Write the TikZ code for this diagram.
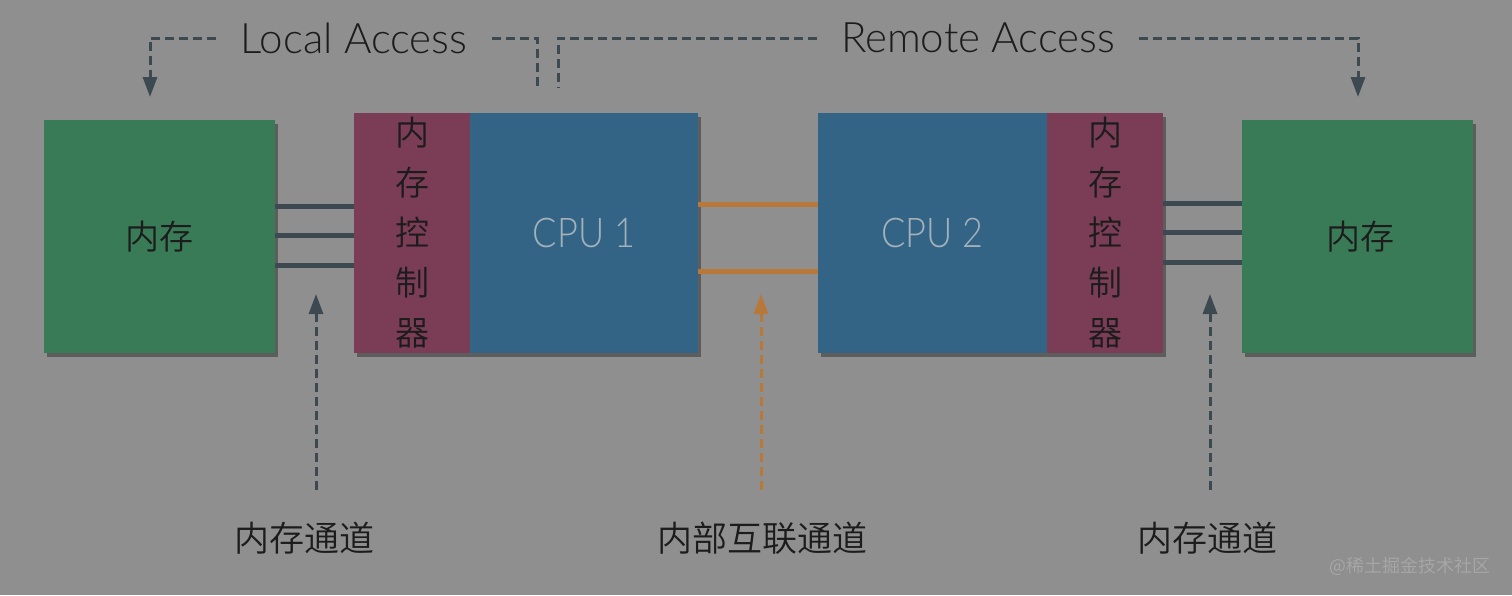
\documentclass[tikz,border=0pt]{standalone}
\usepackage{fontspec}
\IfFontExistsTF{Lato Light}{\setmainfont{Lato Light}\newfontfamily\cpuf{Lato Light}[FakeStretch=0.88]}{\setmainfont{Lato}\newfontfamily\cpuf{Lato}[FakeStretch=0.88]}
\IfFontExistsTF{Noto Sans CJK SC DemiLight}{\newfontfamily\cjk{Noto Sans CJK SC DemiLight}}{\newfontfamily\cjk{Noto Sans CJK SC}}
\usetikzlibrary{arrows.meta,shadows}
\definecolor{bgc}{HTML}{8F8F8F}
\definecolor{memg}{HTML}{3A7B57}
\definecolor{mcr}{HTML}{7A3D55}
\definecolor{cpub}{HTML}{336485}
\definecolor{lgray}{HTML}{3C4950}
\definecolor{orng}{HTML}{B8783A}
\definecolor{txt}{HTML}{1C1C1C}
\definecolor{cputxt}{HTML}{A3B1BA}
\definecolor{wm}{HTML}{A8A8A8}
\tikzset{
  blk/.style={draw=none, inner sep=0pt, drop shadow={shadow xshift=3pt, shadow yshift=-4pt, opacity=0.35, fill=black}},
  membox/.style={blk, fill=memg, minimum width=231pt, minimum height=233pt, font=\cjk\fontsize{34}{40}\selectfont, text=txt},
  mcbox/.style={blk, fill=mcr, minimum width=116pt, minimum height=240pt, align=center, font=\cjk\fontsize{34}{50}\selectfont, text=txt},
  cpubox/.style={blk, fill=cpub, minimum width=229pt, minimum height=240pt, font=\cpuf\fontsize{41}{44}\selectfont, text=cputxt},
  bus/.style={draw=lgray, line width=5pt},
  ibus/.style={draw=orng, line width=5pt},
  dsh/.style={draw=lgray, line width=3pt, dash pattern=on 9pt off 5pt},
  dsho/.style={draw=orng, line width=3pt, dash pattern=on 9pt off 5pt},
  tip/.style={-{Triangle[width=14pt,length=20pt]}},
  acc/.style={font=\fontsize{42}{46}\selectfont, text=txt, inner xsep=24pt, inner ysep=0pt},
  lab/.style={font=\cjk\fontsize{35}{40}\selectfont, text=txt},
}
\begin{document}
\begin{tikzpicture}[x=1pt,y=-1pt]
\fill[bgc] (0,0) rectangle (1512,595);
\useasboundingbox (0,0) rectangle (1512,595);

% boxes
\node[membox] (lm) at (159.5,236.5) {内存};
\node[mcbox] (mc1) at (412,233) {内\\存\\控\\制\\器};
\node[cpubox, minimum width=228pt] (c1) at (584,233) {CPU 1};
\node[cpubox] (c2) at (932.5,233) {CPU 2};
\node[mcbox] (mc2) at (1105,233) {内\\存\\控\\制\\器};
\node[membox] (rm) at (1357.5,236.5) {\hspace*{6pt}内存};

% memory channels
\draw[bus] (lm.east |- 0,206) -- (mc1.west |- 0,206);
\draw[bus] (lm.east |- 0,235) -- (mc1.west |- 0,235);
\draw[bus] (lm.east |- 0,265) -- (mc1.west |- 0,265);
\draw[bus] (mc2.east |- 0,203) -- (rm.west |- 0,203);
\draw[bus] (mc2.east |- 0,232) -- (rm.west |- 0,232);
\draw[bus] (mc2.east |- 0,262) -- (rm.west |- 0,262);
% interconnect
\draw[ibus] (c1.east |- 0,204) -- (c2.west |- 0,204);
\draw[ibus] (c1.east |- 0,271) -- (c2.west |- 0,271);

% top labels
\node[acc] (la) at (354,38) {Local Access};
\node[acc] (ra) at (978,38) {Remote Access};
\coordinate (laL) at (150,97);
\coordinate (laR) at (537,90);
\coordinate (raL) at (558,88);
\coordinate (raR) at (1358,97);
\draw[dsh, tip] (la.west) -| (laL);
\draw[dsh] (la.east) -| (laR);
\draw[dsh] (ra.west) -| (raL);
\draw[dsh, tip] (ra.east) -| (raR);

% bottom labels
\node[lab] (b1) at (304,538) {内存通道};
\node[lab] (b2) at (762,538) {内部互联通道};
\node[lab] (b3) at (1207,538) {内存通道};
\coordinate (a1s) at (316,490); \coordinate (a1e) at (316,294);
\coordinate (a2s) at (761,490); \coordinate (a2e) at (761,294);
\coordinate (a3s) at (1210,490); \coordinate (a3e) at (1210,294);
\draw[dsh, tip] (a1s) -- (a1e);
\draw[dsho, tip] (a2s) -- (a2e);
\draw[dsh, tip] (a3s) -- (a3e);

% watermark
\node[font=\cjk\fontsize{18}{20}\selectfont, text=wm, anchor=east] (wmk) at (1494,566) {@稀土掘金技术社区};
\end{tikzpicture}
\end{document}
